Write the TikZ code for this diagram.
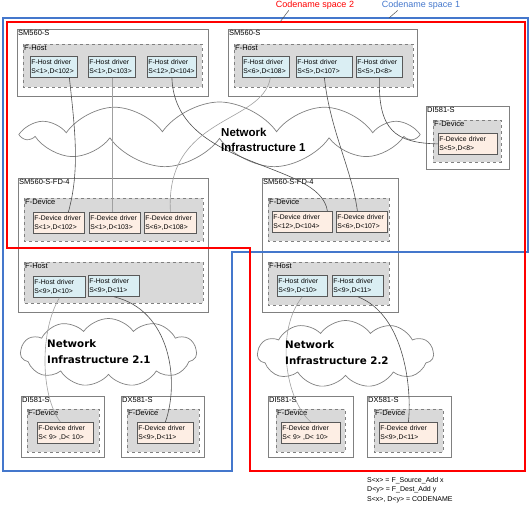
\documentclass[tikz,border=0pt]{standalone}
\usepackage{fontspec}
\setmainfont{Liberation Sans}
\newfontfamily\netfont{DejaVu Sans}
\usepackage{xcolor}
\usetikzlibrary{shapes}
\definecolor{groupgray}{HTML}{D9D9D9}
\definecolor{hostblue}{HTML}{DAEEF3}
\definecolor{devpeach}{HTML}{FDEEE4}
\definecolor{modgray}{HTML}{808080}
\definecolor{drvgray}{HTML}{595959}
\definecolor{wiregray}{HTML}{505050}
\definecolor{lightwire}{HTML}{A0A0A0}
\definecolor{cs2red}{HTML}{FF0000}
\definecolor{cs1blue}{HTML}{4477CC}
\tikzset{module/.style={draw=modgray, line width=0.8pt},
 fgroup/.style={draw=modgray, fill=groupgray, dashed, line width=0.8pt},
 boxlabel/.style={anchor=north west, inner sep=1pt, font=\fontsize{7.5}{9}\selectfont},
 driver/.style={draw=drvgray, line width=0.8pt, anchor=north west, text width=#1,
   minimum height=21pt, inner sep=1pt, align=left, font=\fontsize{6.8}{8.7}\selectfont},
 hostdrv/.style={driver=#1, fill=hostblue},
 devdrv/.style={driver=#1, fill=devpeach},
 netcloud/.style={cloud, cloud puffs=11, cloud puff arc=110, cloud ignores aspect, draw=modgray,
   fill=white, line width=0.7pt, inner sep=0pt},
 nettext/.style={anchor=west, align=left, inner sep=0pt},
 wire/.style={draw=wiregray, line width=0.6pt},
 wirelight/.style={draw=lightwire, line width=0.6pt},
 cslabel/.style={inner sep=1pt, font=\fontsize{9}{10}\selectfont},
 leader/.style={draw=wiregray, line width=0.5pt},
 space/.style={line width=2.2pt},
 }

\begin{document}
\begin{tikzpicture}[x=1pt, y=-1pt]
        \useasboundingbox (0,0) rectangle (531,508);

        \draw[module] (17,29) rectangle (208,96);
        \node[boxlabel] (m1) at (17,29) {SM560-S};
        \draw[fgroup] (23,44) rectangle (202,87);
        \node[boxlabel] (g1) at (23,44) {F-Host};
        \node[hostdrv=45pt] (h1a) at (30,56) {F-Host driver\\S<1>,D<102>};
        \node[hostdrv=45pt] (h1b) at (88,56) {F-Host driver\\S<1>,D<103>};
        \node[hostdrv=47pt] (h1c) at (147,56) {F-Host driver\\S<12>,D<104>};

        \draw[module] (228,29) rectangle (417,96);
        \node[boxlabel] (m2) at (228,29) {SM560-S};
        \draw[fgroup] (234,44) rectangle (413,87);
        \node[boxlabel] (g2) at (234,44) {F-Host};
        \node[hostdrv=45pt] (h2a) at (242,56) {F-Host driver\\S<6>,D<108>};
        \node[hostdrv=54pt] (h2b) at (296,56) {F-Host driver\\S<5>,D<107>};
        \node[hostdrv=44pt] (h2c) at (356,56) {F-Host driver\\S<5>,D<8>};

        \draw[module] (426,106) rectangle (509,169);
        \node[boxlabel] (m3) at (426,106) {DI581-S};
        \draw[fgroup] (433,120) rectangle (501,162);
        \node[boxlabel] (g3) at (433,120) {F-Device};
        \node[devdrv=57pt] (dr1) at (438,133) {F-Device driver\\S<5>,D<8>};

        \draw[module] (18,178) rectangle (208,312);
        \node[boxlabel] (m4) at (18,178) {SM560-S-FD-4};
        \draw[fgroup] (24,198) rectangle (203,241);
        \node[boxlabel] (g4) at (24,198) {F-Device};
        \node[devdrv=49pt] (d1a) at (33,212) {F-Device driver\\S<1>,D<102>};
        \node[devdrv=49pt] (d1b) at (89,212) {F-Device driver\\S<1>,D<103>};
        \node[devdrv=50pt] (d1c) at (144,212) {F-Device driver\\S<6>,D<108>};
        \draw[fgroup] (24,262) rectangle (203,303);
        \node[boxlabel] (g5) at (24,262) {F-Host};
        \node[hostdrv=50pt] (h3a) at (33,276) {F-Host driver\\S<9>,D<10>};
        \node[hostdrv=49pt] (h3b) at (88,275) {F-Host driver\\S<9>,D<11>};

        \draw[module] (262,178) rectangle (398,312);
        \node[boxlabel] (m5) at (262,178) {SM560-S-FD-4};
        \draw[fgroup] (268,198) rectangle (389,241);
        \node[boxlabel] (g6) at (268,198) {F-Device};
        \node[devdrv=58pt] (d2a) at (272,211) {F-Device driver\\S<12>,D<104>};
        \node[devdrv=49pt] (d2b) at (336,211) {F-Device driver\\S<6>,D<107>};
        \draw[fgroup] (268,262) rectangle (389,305);
        \node[boxlabel] (g7) at (268,262) {F-Host};
        \node[hostdrv=48pt] (h4a) at (277,275) {F-Host driver\\S<9>,D<10>};
        \node[hostdrv=49pt] (h4b) at (332,275) {F-Host driver\\S<9>,D<11>};

        \draw[module] (21,396) rectangle (104,457);
        \node[boxlabel] (m6) at (21,396) {DI581-S};
        \draw[fgroup] (27,409) rectangle (99,452);
        \node[boxlabel] (g8) at (27,409) {F-Device};
        \node[devdrv=54pt] (d3a) at (37,422) {F-Device driver\\S< 9> ,D< 10>};

        \draw[module] (121,396) rectangle (204,457);
        \node[boxlabel] (m7) at (121,396) {DX581-S};
        \draw[fgroup] (127,409) rectangle (199,452);
        \node[boxlabel] (g9) at (127,409) {F-Device};
        \node[devdrv=54pt] (d3b) at (137,422) {F-Device driver\\S<9>,D<11>};

        \draw[module] (268,396) rectangle (353,457);
        \node[boxlabel] (m8) at (268,396) {DI581-S};
        \draw[fgroup] (276,409) rectangle (345,452);
        \node[boxlabel] (g10) at (276,409) {F-Device};
        \node[devdrv=57pt] (d4a) at (281,422) {F-Device driver\\S< 9> ,D< 10>};

        \draw[module] (367,396) rectangle (451,457);
        \node[boxlabel] (m9) at (367,396) {DX581-S};
        \draw[fgroup] (374,409) rectangle (443,452);
        \node[boxlabel] (g11) at (374,409) {F-Device};
        \node[devdrv=56pt] (d4b) at (379,422) {F-Device driver\\S<9>,D<11>};

        \node[netcloud, minimum width=390pt, minimum height=66pt] (net1) at (219.5,135) {};
        \node[netcloud, minimum width=176pt, minimum height=68pt] (net21) at (108.5,352.5) {};
        \node[netcloud, minimum width=176pt, minimum height=67pt] (net22) at (345.5,354) {};

        \draw[wire] ([xshift=15.5pt]h1a.south) .. controls (75,130) and (80,170) .. ([xshift=9.5pt]d1a.north);
        \draw[wirelight] (h1b.south) -- (h1b.south |- d1b.north);
        \draw[wire] (h1c.south) .. controls (175,170) and (320,160) .. ([xshift=25pt]d2a.north);
        \draw[wirelight] ([xshift=4.5pt]h2a.south) .. controls (262,125) and (165,115) .. (d1c.north);
        \draw[wire] (h2b.south) .. controls (330,130) and (352,170) .. ([xshift=-4.5pt]d2b.north);
        \draw[wire] (h2c.south) .. controls (378,130) and (395,143) .. (dr1.west);
        \draw[wirelight] (h3a.south) .. controls (40,330) and (40,395) .. ([xshift=-5pt]d3a.north);
        \draw[wire] (h3b.south) .. controls (170,310) and (180,380) .. (d3b.north);
        \draw[wirelight] (h4a.south) .. controls (275,330) and (285,400) .. (d4a.north);
        \draw[wire] (h4b.south) .. controls (405,315) and (412,390) .. (d4b.north);

        \node[nettext, font=\fontsize{11.5}{15}\selectfont\bfseries] (t1) at (221,139.5) {Network\\Infrastructure 1};
        \node[nettext, font=\netfont\fontsize{10.3}{16}\selectfont\bfseries] (t21) at (47,352) {Network\\Infrastructure 2.1};
        \node[nettext, font=\netfont\fontsize{10.3}{16}\selectfont\bfseries] (t22) at (285,353) {Network\\Infrastructure 2.2};

        \draw[space, cs1blue] (3,18) -- (528,18) -- (528,252) -- (232,252) -- (232,471) -- (3,471) -- cycle;
        \draw[space, cs2red] (7,22) -- (525,22) -- (525,471) -- (250,471) -- (250,248) -- (7,248) -- cycle;

        \node[cslabel, text=cs2red] (cs2) at (315,5) {Codename space 2};
        \node[cslabel, text=cs1blue] (cs1) at (421,5) {Codename space 1};
        \coordinate (cs2pt) at (280,22);
        \coordinate (cs1pt) at (389,18);
        \draw[leader] ([xshift=14pt]cs2.south west) -- (cs2pt);
        \draw[leader] ([xshift=17pt]cs1.south west) -- (cs1pt);

        \node[anchor=north west, align=left, inner sep=0pt, font=\fontsize{7}{9.5}\selectfont] (key) at (367,477) {S<x> = F\_Source\_Add x\\D<y> = F\_Dest\_Add y\\S<x>, D<y> = CODENAME};
    \end{tikzpicture}
\end{document}
